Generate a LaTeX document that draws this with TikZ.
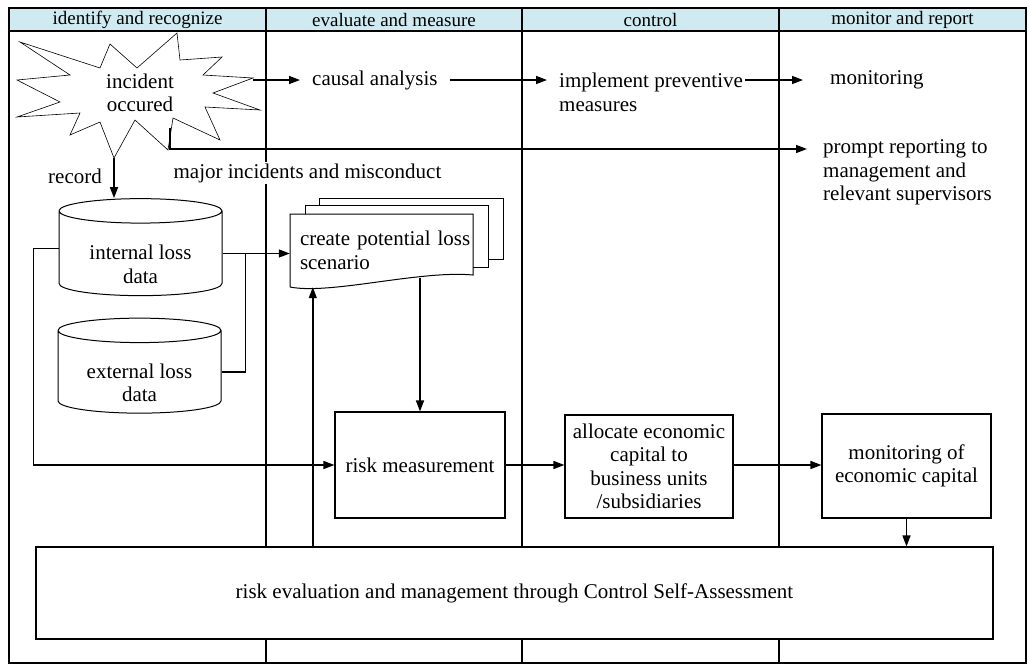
\documentclass[tikz,border=0pt]{standalone}
\usepackage{fontspec}
\setmainfont{Liberation Serif}
\usetikzlibrary{%
        arrows.meta,
        positioning,
        shapes.geometric
    }
\definecolor{laneblue}{RGB}{207, 234, 240}
\newcommand{\bodyfont}{\fontsize{21}{23.5}\selectfont}
\tikzset{%
    lanehead/.style={font=\fontsize{19}{21}\selectfont, inner sep=0pt},
    stepbox/.style={%
        draw, line width=1.1pt, fill=white,
        align=center, inner sep=0pt, font=\bodyfont
    },
    store/.style={%
        cylinder, shape border rotate=90, aspect=0.15,
        draw, line width=1pt, fill=white, inner sep=0pt,
        text width=163pt, minimum width=163pt, minimum height=97pt,
        label={[align=center, font=\bodyfont, yshift=-11pt]center:#1}
    },
    note/.style={anchor=west, align=left, inner ysep=0pt, inner xsep=12pt, font=\bodyfont},
    flow/.style={line width=1.4pt, -{Triangle[length=11pt, width=8pt]}},
    link/.style={line width=1.4pt}
}

\begin{document}
\begin{tikzpicture}[x=1pt, y=-1pt]

    \useasboundingbox (0, 0) rectangle (1029, 665);

    % Lanes
    \fill[laneblue] (9, 8) rectangle (1026, 31);
    \draw[line width=1.8pt] (9, 8) rectangle (1026, 663);
    \draw[line width=1.8pt] (9, 31) -- (1026, 31);
    \foreach \x in {266, 522, 779}{%
        \draw[line width=1.8pt] (\x, 8) -- (\x, 663);
    };
    \node[lanehead] (hidentify) at (137.5, 20) {identify and recognize};
    \node[lanehead] (hevaluate) at (394, 20) {evaluate and measure};
    \node[lanehead] (hcontrol) at (650.5, 20) {control};
    \node[lanehead] (hmonitor) at (902.5, 20) {monitor and report};

    % Control Self-Assessment
    \node[stepbox, minimum width=957pt, minimum height=92pt] (csa) at (514.5, 593)
        {risk evaluation and management through Control Self-Assessment};

    % The incident
    \draw[line width=0.6pt, fill=white]
        (20, 42) -- (100, 68) -- (110, 44) -- (137, 68) -- (177, 33)
        -- (180, 60) -- (222, 57) -- (203, 75) -- (253, 78) -- (213, 93)
        -- (260, 110) -- (205, 107) -- (220, 140) -- (173, 118) -- (168, 150)
        -- (135, 120) -- (114, 158) -- (100, 122) -- (70, 135) -- (80, 113)
        -- (17, 117) -- (60, 102) -- (17, 80) -- (70, 75) -- cycle;
    \node[align=center, inner sep=0pt, font=\bodyfont] (incident) at (140, 93)
        {incident\\occured};
    \coordinate (starE) at (253, 80);
    \coordinate (starS) at (114, 158);
    \coordinate (starSE) at (170, 128);

    % Immediate response
    \node[note] (causal) at (300, 80) {causal analysis};
    \node[note] (implement) at (547, 92.5) {implement preventive\\measures};
    \node[note, inner xsep=27pt] (monitoring) at (803, 80) {monitoring};
    \node[note, inner xsep=16pt] (prompt) at (807, 172.5)
        {prompt reporting to\\management and\\relevant supervisors};
    \node[fill=white, inner sep=1pt, font=\bodyfont] (major) at (307.5, 173)
        {major incidents and misconduct};
    \node[inner sep=0pt, font=\bodyfont] (record) at (75, 176) {record};

    % Loss data
    \node[store={internal loss\\data}] (intdata) at (140.5, 253.5) {};
    \node[store={external loss\\data}, minimum height=95pt] (extdata) at (139.5, 372) {};

    % Scenario documents
    \draw[line width=1pt, fill=white] (319, 198) rectangle (503, 259);
    \draw[line width=1pt, fill=white] (305, 205) rectangle (488, 267);
    \draw[line width=1pt, fill=white]
        (290, 287) -- (290, 214) -- (473, 214) -- (473, 275)
        .. controls (420, 270) and (330, 295) .. (290, 287);
    \node[minimum width=183pt, minimum height=73pt, text width=175pt, align=left,
        inner xsep=10pt, inner ysep=0pt, font=\bodyfont] (scenario) at (387.5, 250.5)
        {create potential loss\\scenario};

    % Measurement and capital
    \node[stepbox, minimum width=170pt, minimum height=106pt] (risk) at (420, 465)
        {risk measurement};
    \node[stepbox, minimum width=168pt, minimum height=103pt] (allocate) at (649, 466.5)
        {allocate economic\\capital to\\business units\\/subsidiaries};
    \node[stepbox, minimum width=169pt, minimum height=104pt] (capital) at (906.5, 466)
        {monitoring of\\economic capital};

    % Connecting up
    \draw[flow] (starE) -- (causal.west);
    \draw[flow] (causal.east) -- (causal.east -| implement.west);
    \draw[flow] ([xshift=-10pt]implement.east |- causal.east) -- (monitoring.west);
    \draw[flow] (starSE) |- ([yshift=23.5pt]prompt.west);
    \draw[flow] (starS) -- (starS |- intdata.north);

    \coordinate (merge) at ([xshift=23pt]intdata.east);
    \coordinate (leftbus) at ([xshift=-25pt, yshift=5pt]intdata.west);
    \draw[flow] (intdata.east) -- (scenario.west |- intdata.east);
    \draw[link] (extdata.east) -| (merge);
    \draw[flow] (leftbus -| intdata.west) -- (leftbus) |- (risk.west);

    \draw[flow] ([yshift=9pt]scenario.south -| risk.north) -- (risk.north);
    \draw[flow] ([xshift=23pt]csa.north -| scenario.west) -- ([xshift=23pt]scenario.south west);
    \draw[flow] (risk.east) -- (risk.east -| allocate.west);
    \draw[flow] (allocate.east |- risk.east) -- (capital.west |- risk.east);
    \draw[flow] (capital.south) -- (capital.south |- csa.north);

\end{tikzpicture}
\end{document}
